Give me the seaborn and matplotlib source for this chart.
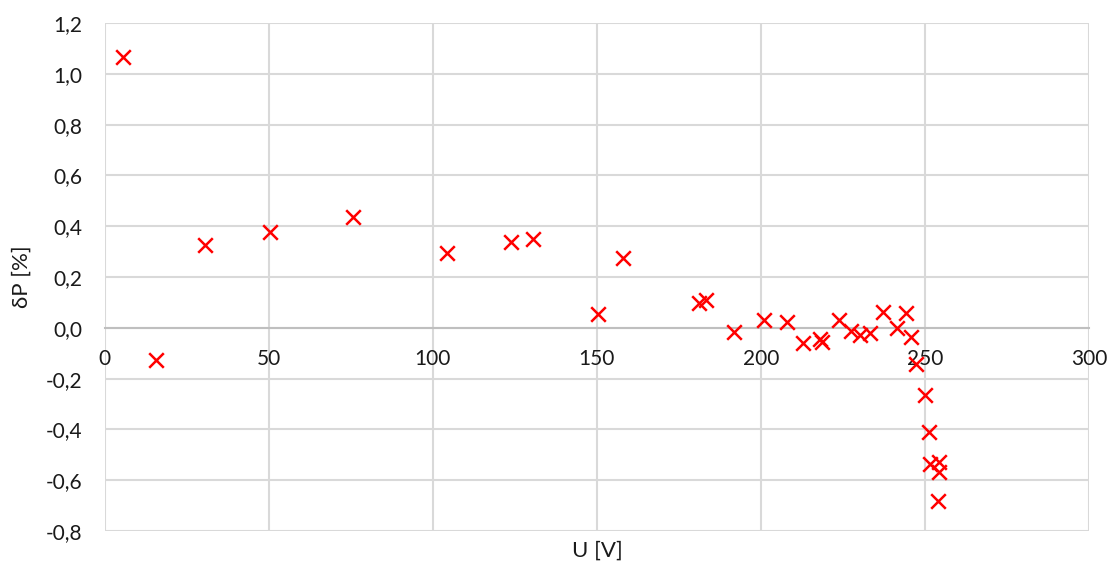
import matplotlib
matplotlib.use("Agg")
import matplotlib.pyplot as plt
import seaborn as sns
import pandas as pd
from matplotlib.ticker import FuncFormatter, MultipleLocator

voltage = [5.6, 15.6, 30.6, 50.3, 75.6, 104.5, 123.8, 130.6, 150.3, 158.1,
           181.3, 183.3, 191.8, 201.0, 208.0, 213.0, 217.9, 218.7, 223.7, 227.5,
           230.3, 233.2, 237.3, 241.5, 244.2, 245.8, 247.3, 249.9, 251.2, 251.7,
           254.2, 254.2, 254.0]
delta_p = [1.065, -0.127, 0.325, 0.376, 0.437, 0.296, 0.339, 0.351, 0.053, 0.276,
           0.096, 0.109, -0.017, 0.029, 0.022, -0.059, -0.045, -0.055, 0.030, -0.012,
           -0.029, -0.020, 0.063, 0.001, 0.057, -0.035, -0.143, -0.266, -0.410, -0.538,
           -0.529, -0.568, -0.680]

df = pd.DataFrame({"U": voltage, "dP": delta_p})

sns.set_theme(style="white")
plt.rcParams["font.family"] = ["Lato", "DejaVu Sans"]

fig = plt.figure(figsize=(11.11, 5.67), dpi=100)
ax = fig.add_axes([104.5 / 1111, 1 - 531 / 567, (1089 - 104.5) / 1111, (531 - 23) / 567])

ax.set_xlim(0, 300)
ax.set_ylim(-0.8, 1.2)
ax.xaxis.set_major_locator(MultipleLocator(50))
ax.yaxis.set_major_locator(MultipleLocator(0.2))
ax.grid(True, color="#d9d9d9", linewidth=1.5)
ax.set_axisbelow(True)

sns.scatterplot(data=df, x="U", y="dP", marker="x", color="#ff0000",
                s=110, linewidth=1.8, ax=ax, zorder=3)

for side in ["top", "right", "left"]:
    ax.spines[side].set_visible(False)
ax.spines["bottom"].set_position(("data", 0))
ax.spines["bottom"].set_color("#bfbfbf")
ax.spines["bottom"].set_linewidth(1.5)

ax.yaxis.set_major_formatter(FuncFormatter(lambda v, p: f"{v:.1f}".replace(".", ",").replace("-0,0", "0,0")))
ax.xaxis.set_major_formatter(FuncFormatter(lambda v, p: f"{v:.0f}"))
ax.tick_params(axis="both", length=0, labelsize=15, colors="#1a1a1a")
ax.tick_params(axis="x", pad=15)
ax.tick_params(axis="y", pad=16)

ax.set_xlabel("")
ax.set_ylabel("")
fig.text(597 / 1111, 1 - 551 / 567, "U [V]", ha="center", va="center",
         fontsize=16, color="#1a1a1a")
fig.text(22 / 1111, 1 - 277 / 567, "δP [%]", ha="center", va="center", rotation=90,
         fontsize=16, color="#1a1a1a")

fig.savefig("out.png", dpi=100)
